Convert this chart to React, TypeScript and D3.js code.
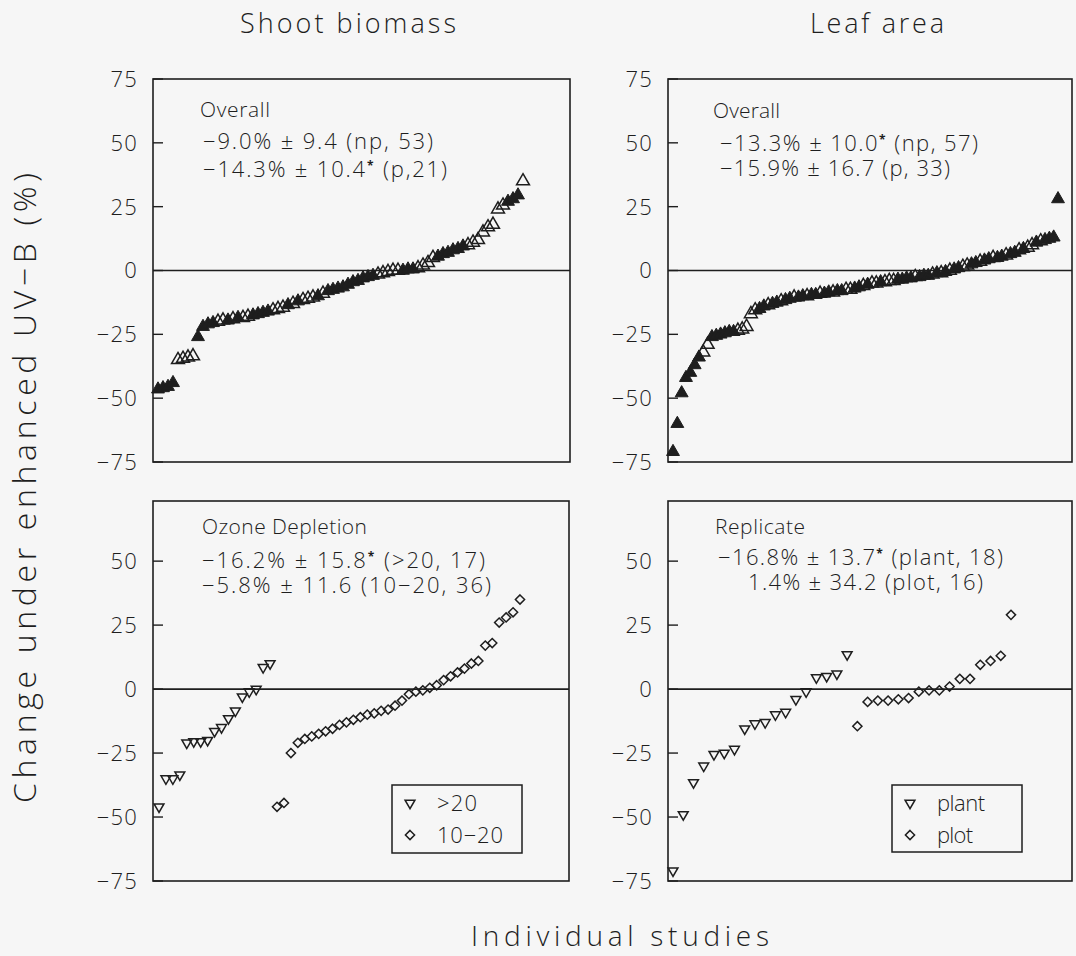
import React from "react";
import * as d3 from "d3";

// Shoot biomass, all studies, sorted ascending (% change)
const shootOverall = [
  -46.5, -46, -45.5, -44, -35, -34.5, -34, -33.5, -26, -22,
  -21, -20.5, -20, -19.5, -19.5, -19, -18.5, -18.5, -18, -17.5,
  -17, -16.5, -16, -15.5, -15, -14.5, -13.5, -13, -12, -11.5,
  -11, -10.5, -10, -9, -8, -7.5, -7, -6.5, -5.5, -4.5,
  -4, -3, -2.5, -2, -1.5, -1, -0.5, 0, 0, 0,
  0.5, 0.5, 1, 2, 3, 5, 5.5, 6.5, 7, 8,
  8.5, 9.5, 10, 11, 12, 15, 17, 18, 24, 25.5,
  27, 28, 29.5, 35,
];
// 1 = solid marker, 0 = open marker
const shootOverallSolid = [
  1, 1, 1, 1, 0, 0, 0, 0, 1, 1,
  1, 1, 0, 0, 1, 0, 1, 0, 0, 1,
  1, 1, 1, 0, 0, 0, 1, 0, 1, 0,
  0, 0, 1, 0, 1, 1, 1, 1, 1, 1,
  1, 1, 1, 1, 0, 0, 0, 0, 0, 1,
  1, 1, 0, 0, 0, 0, 1, 1, 1, 1,
  1, 1, 0, 0, 0, 0, 0, 0, 0, 0,
  1, 1, 1, 0,
];

// Leaf area, all studies, sorted ascending
const leafOverall = [
  -71, -60, -48, -42, -40, -37, -34, -32, -29, -26,
  -25.5, -25, -24.5, -24, -24, -23.5, -23, -22, -17, -15.5,
  -15, -14, -13.5, -13, -12.5, -12, -11.5, -11, -10.5, -10.5,
  -10, -10, -9.5, -9.5, -9, -9, -8.5, -8.5, -8, -8,
  -7.5, -7.5, -7, -6.5, -6, -5.5, -5, -5, -4.5, -4.5,
  -4, -4, -3.5, -3.5, -3, -3, -2.5, -2.5, -2, -2,
  -1.5, -1, -1, -0.5, 0, 0.5, 1, 1.5, 2, 2.5,
  3, 3.5, 4, 4.5, 5, 5, 5.5, 6, 6.5, 7,
  8, 8.5, 9, 10, 11, 11.5, 12, 12.5, 13, 28,
];
const leafOverallSolid = [
  1, 1, 1, 1, 1, 1, 1, 0, 0, 1,
  1, 1, 1, 1, 1, 0, 0, 0, 0, 0,
  1, 1, 0, 1, 1, 0, 1, 1, 0, 1,
  1, 0, 1, 1, 0, 1, 1, 0, 1, 1,
  0, 0, 1, 1, 0, 1, 0, 0, 1, 0,
  0, 0, 1, 1, 1, 1, 0, 1, 1, 1,
  0, 1, 0, 1, 0, 1, 1, 0, 0, 1,
  1, 0, 1, 1, 0, 1, 1, 0, 1, 1,
  0, 1, 0, 0, 1, 0, 1, 1, 1, 1,
];

// Shoot biomass by ozone depletion level
const ozoneAbove20 = [
  -46, -35, -35, -33.5, -21, -20.5, -20.5, -20, -16.5, -15,
  -11.5, -8.5, -3, -1, 0, 8.5, 10,
];
const ozone10to20 = [
  -46, -44.5, -25, -21, -19.5, -18.5, -17.5, -16.5, -15.5, -14,
  -13, -12, -11, -10, -9.5, -8.5, -8, -6.5, -4.5, -2,
  -1, -0.5, 0.5, 1.5, 3.5, 5, 6.5, 8, 10, 11,
  17, 18, 26, 28, 30, 35,
];

// Leaf area by unit of replication
const replicatePlant = [
  -71, -49, -36.5, -30, -25.5, -25, -23.5, -15.5, -13.5, -13,
  -10, -9, -4, -1, 4.5, 5, 6, 13.5,
];
const replicatePlot = [
  -14.5, -5, -4.5, -4.5, -4, -3.5, -1, -0.5, -0.5, 1,
  4, 4, 9.5, 11, 13, 29,
];

const yTicksTop = [75, 50, 25, 0, -25, -50, -75];
const yTicksBottom = [50, 25, 0, -25, -50, -75];

const columnTitles = ["Shoot biomass", "Leaf area"];
const xAxisTitle = "Individual studies";
const yAxisTitle = "Change under enhanced UV\u2212B (%)";

const W = 1076;
const H = 956;
const INK = "#1e1e1e";
const FONT = "'Open Sans', 'DejaVu Sans', sans-serif";

type Shape = "up" | "down" | "rhombus";

const rhombus = {
  draw(context: any, size: number) {
    const r = Math.sqrt(size / 2);
    context.moveTo(0, -r);
    context.lineTo(r, 0);
    context.lineTo(0, r);
    context.lineTo(-r, 0);
    context.closePath();
  },
};

function symbolPath(shape: Shape, size: number) {
  if (shape === "rhombus") return d3.symbol(rhombus as any, size)() as string;
  return d3.symbol(d3.symbolTriangle, size)() as string;
}

interface Series {
  values: number[];
  shape: Shape;
  solid?: number[];
  size: number;
}

interface PanelSpec {
  key: string;
  x0: number;
  x1: number;
  y0: number;
  y1: number;
  yDomain: [number, number];
  ticks: number[];
  xFrom: number;
  xTo: number;
  series: Series[];
  heading: string;
  headX: number;
  headY: number;
  headW: number;
  lines: string[];
  lineXs: number[];
  lineYs: number[];
  lineWs: number[];
  legend?: { x: number; y: number; w: number; h: number; labels: string[]; widths: number[] };
}

const panels: PanelSpec[] = [
  {
    key: "shoot-overall",
    x0: 153, x1: 570, y0: 79, y1: 462,
    yDomain: [-75, 75], ticks: yTicksTop,
    xFrom: 158, xTo: 523,
    series: [{ values: shootOverall, shape: "up", solid: shootOverallSolid, size: 72 }],
    heading: "Overall", headX: 200, headY: 117, headW: 70,
    lines: ["\u22129.0% \u00b1 9.4 (np, 53)", "\u221214.3% \u00b1 10.4* (p,21)"],
    lineXs: [203, 203], lineYs: [149, 177], lineWs: [230, 244],
  },
  {
    key: "leaf-overall",
    x0: 668, x1: 1072, y0: 79, y1: 462,
    yDomain: [-75, 75], ticks: yTicksTop,
    xFrom: 673, xTo: 1058,
    series: [{ values: leafOverall, shape: "up", solid: leafOverallSolid, size: 72 }],
    heading: "Overall", headX: 713, headY: 118, headW: 67,
    lines: ["\u221213.3% \u00b1 10.0* (np, 57)", "\u221215.9% \u00b1 16.7 (p, 33)"],
    lineXs: [720, 720], lineYs: [151, 176], lineWs: [258, 230],
  },
  {
    key: "shoot-ozone",
    x0: 153, x1: 569, y0: 501, y1: 881,
    yDomain: [-75, 73.5], ticks: yTicksBottom,
    xFrom: 159, xTo: 520,
    series: [
      { values: ozoneAbove20, shape: "down", size: 42 },
      { values: ozone10to20, shape: "rhombus", size: 42 },
    ],
    heading: "Ozone Depletion", headX: 202, headY: 534, headW: 165,
    lines: ["\u221216.2% \u00b1 15.8* (>20, 17)", "\u22125.8% \u00b1 11.6 (10\u221220, 36)"],
    lineXs: [202, 202], lineYs: [568, 593], lineWs: [283, 289],
    legend: { x: 392, y: 785, w: 130, h: 68, labels: [">20", "10\u221220"], widths: [40, 66] },
  },
  {
    key: "leaf-replicate",
    x0: 668, x1: 1072, y0: 501, y1: 881,
    yDomain: [-75, 73.5], ticks: yTicksBottom,
    xFrom: 673, xTo: 1011,
    series: [
      { values: replicatePlant, shape: "down", size: 42 },
      { values: replicatePlot, shape: "rhombus", size: 42 },
    ],
    heading: "Replicate", headX: 715, headY: 534, headW: 90,
    lines: ["\u221216.8% \u00b1 13.7* (plant, 18)", "1.4% \u00b1 34.2 (plot, 16)"],
    lineXs: [718, 748], lineYs: [565, 590], lineWs: [285, 235],
    legend: { x: 892, y: 785, w: 130, h: 67, labels: ["plant", "plot"], widths: [48, 36] },
  },
];

// Renders "a*b" with the asterisk raised as a small superscript marker
function starred(text: string) {
  const parts = text.split("*");
  if (parts.length === 1) return text;
  return (
    <>
      {parts[0]}
      <tspan dy={-7} fontSize={12} fontWeight={700}>*</tspan>
      <tspan dy={7}>{parts[1]}</tspan>
    </>
  );
}

function Panel({ p }: { p: PanelSpec }) {
  const total = d3.sum(p.series, (s) => s.values.length);
  const x = d3.scaleLinear().domain([0, total - 1]).range([p.xFrom, p.xTo]);
  const y = d3.scaleLinear().domain(p.yDomain).range([p.y1, p.y0]);

  let offset = 0;
  const marks: React.ReactNode[] = [];
  p.series.forEach((s, si) => {
    const d = symbolPath(s.shape, s.size);
    s.values.forEach((v, i) => {
      const solid = s.solid ? s.solid[i] === 1 : false;
      const rot = s.shape === "down" ? " rotate(180)" : "";
      marks.push(
        <path
          key={`${si}-${i}`}
          d={d}
          transform={`translate(${x(offset + i)},${y(v)})${rot}`}
          fill={solid ? INK : "none"}
          stroke={INK}
          strokeWidth={solid ? 1 : 1.5}
        />
      );
    });
    offset += s.values.length;
  });

  return (
    <g>
      {/* frame */}
      <rect
        x={p.x0}
        y={p.y0}
        width={p.x1 - p.x0}
        height={p.y1 - p.y0}
        fill="none"
        stroke={INK}
        strokeWidth={1.6}
      />
      {/* y ticks and labels */}
      {p.ticks.map((t) => (
        <g key={t}>
          <line x1={p.x0} x2={p.x0 + 10} y1={y(t)} y2={y(t)} stroke={INK} strokeWidth={1.4} />
          <text
            x={p.x0 - 15}
            y={y(t)}
            dy="0.36em"
            textAnchor="end"
            fontSize={22}
            letterSpacing={1.2}
            fill={INK}
          >
            {t < 0 ? `\u2212${Math.abs(t)}` : `${t}`}
          </text>
        </g>
      ))}
      {/* zero reference line */}
      <line x1={p.x0} x2={p.x1} y1={y(0)} y2={y(0)} stroke={INK} strokeWidth={1.7} />
      {marks}
      {/* summary statistics */}
      <text
        x={p.headX}
        y={p.headY}
        fontSize={21}
        fill={INK}
        textLength={p.headW}
        lengthAdjust="spacing"
      >
        {p.heading}
      </text>
      {p.lines.map((line, i) => (
        <text
          key={i}
          x={p.lineXs[i]}
          y={p.lineYs[i]}
          fontSize={22}
          fill={INK}
          textLength={p.lineWs[i]}
          lengthAdjust="spacing"
        >
          {starred(line)}
        </text>
      ))}
      {p.legend && (
        <g>
          <rect
            x={p.legend.x}
            y={p.legend.y}
            width={p.legend.w}
            height={p.legend.h}
            fill="none"
            stroke={INK}
            strokeWidth={1.5}
          />
          {p.legend.labels.map((lab, i) => {
            const s = p.series[i];
            const cy = p.legend!.y + 18 + i * 32;
            const rot = s.shape === "down" ? " rotate(180)" : "";
            return (
              <g key={lab}>
                <path
                  d={symbolPath(s.shape, s.size)}
                  transform={`translate(${p.legend!.x + 18},${cy})${rot}`}
                  fill="none"
                  stroke={INK}
                  strokeWidth={1.5}
                />
                <text
                  x={p.legend!.x + 45}
                  y={cy}
                  dy="0.36em"
                  fontSize={22}
                  fill={INK}
                  textLength={p.legend!.widths[i]}
                  lengthAdjust="spacing"
                >
                  {lab}
                </text>
              </g>
            );
          })}
        </g>
      )}
    </g>
  );
}

export default function App() {
  return (
    <svg
      width={W}
      height={H}
      viewBox={`0 0 ${W} ${H}`}
      style={{ position: "absolute", left: 0, top: 0, display: "block" }}
      fontFamily={FONT}
      fontWeight={300}
    >
      <rect width={W} height={H} fill="#f6f6f6" />
      <text x={348} y={33} fontSize={27} textAnchor="middle" fill={INK} textLength={216} lengthAdjust="spacing">
        {columnTitles[0]}
      </text>
      <text x={877} y={33} fontSize={27} textAnchor="middle" fill={INK} textLength={134} lengthAdjust="spacing">
        {columnTitles[1]}
      </text>
      {panels.map((p) => (
        <Panel key={p.key} p={p} />
      ))}
      <text x={620} y={946} fontSize={28} textAnchor="middle" fill={INK} textLength={298} lengthAdjust="spacing">
        {xAxisTitle}
      </text>
      <text
        transform="translate(36,488) rotate(-90)"
        fontSize={32}
        textAnchor="middle"
        fill={INK}
        textLength={630}
        lengthAdjust="spacing"
      >
        {yAxisTitle}
      </text>
    </svg>
  );
}
